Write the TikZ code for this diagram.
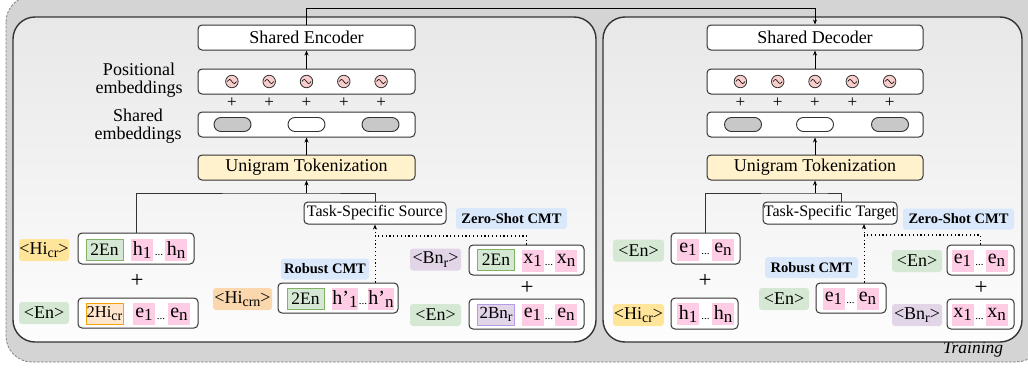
\documentclass[tikz,border=0pt]{standalone}
\usepackage{fontspec}
\setmainfont{Liberation Serif}
\usetikzlibrary{arrows.meta}

\definecolor{outerfill}{HTML}{D4D4D4}
\definecolor{outerline}{HTML}{808080}
\definecolor{panelline}{HTML}{333333}
\definecolor{paneltop}{HTML}{E8E8E8}
\definecolor{panelbot}{HTML}{FDFDFD}
\definecolor{tokyellow}{HTML}{FFF2CC}
\definecolor{pinktok}{HTML}{FFCCE6}
\definecolor{posfill}{HTML}{F8CECC}
\definecolor{pillgray}{HTML}{C8C8C8}
\definecolor{lgreen}{HTML}{D5E8D4}
\definecolor{dgreen}{HTML}{82B366}
\definecolor{lyellow}{HTML}{FFE599}
\definecolor{lorange}{HTML}{FAD7AC}
\definecolor{lpurple}{HTML}{E1D5E7}
\definecolor{dpurple}{HTML}{B59CE6}
\definecolor{lblue}{HTML}{DAE8FC}
\definecolor{lpeach}{HTML}{FFE6CC}
\definecolor{dorange}{HTML}{F0A30A}

\newcommand{\nf}{\fontsize{18}{18}\selectfont}
% subscript used in the tag labels
\newcommand{\sbs}[1]{\raisebox{-0.45ex}{\fontsize{14}{14}\selectfont #1}}
% subscript used inside the token boxes (nearly full size, lowered)
\newcommand{\tsb}[1]{\raisebox{-0.3ex}{\fontsize{17}{17}\selectfont #1}}

\tikzset{
  panel/.style={draw=panelline, line width=1.4pt, rounded corners=22pt,
    top color=paneltop, bottom color=panelbot},
  box/.style={draw=panelline, fill=white, rounded corners=4pt, line width=1pt,
    inner sep=0pt, font=\nf},
  posc/.style={circle, draw=panelline, fill=posfill, line width=0.8pt,
    minimum size=12.5pt, inner sep=0pt},
  pill/.style={draw=panelline, rounded corners=7pt, line width=0.9pt,
    minimum width=37pt, minimum height=14pt, inner sep=0pt},
  tok/.style={fill=pinktok, inner sep=0pt, minimum width=22pt,
    minimum height=22pt, font=\fontsize{20}{20}\selectfont},
  dotsn/.style={inner sep=0pt, font=\fontsize{11}{11}\selectfont},
  inner/.style={inner sep=0pt, minimum width=37pt, minimum height=21pt,
    line width=0.9pt, font=\fontsize{17.5}{17.5}\selectfont},
  tag/.style={rounded corners=3pt, inner sep=0pt, minimum height=22pt, font=\nf},
  cmt/.style={fill=lblue, rounded corners=3pt, inner sep=0pt,
    minimum height=21pt, font=\fontsize{14.5}{14.5}\selectfont\bfseries},
  plussm/.style={inner sep=0pt, font=\fontsize{17}{17}\selectfont},
  plusbg/.style={inner sep=0pt, font=\fontsize{23}{23}\selectfont},
  arr/.style={-{Stealth[length=5pt,width=4pt]}, line width=0.9pt},
  conn/.style={line width=0.9pt, draw=panelline},
  dotl/.style={line width=1.2pt, dash pattern=on 1.2pt off 2.6pt},
  wave/.pic={\draw[line width=0.6pt] (-4.5,0) sin (-2.25,-2) cos (0,0)
    sin (2.25,2) cos (4.5,0);}
}

\begin{document}
\begin{tikzpicture}[x=1pt,y=-1pt]
\useasboundingbox (0,0) rectangle (1028,372);
\clip (0,0) rectangle (1028,372);

% training frame
\draw[outerline, fill=outerfill, line width=0.8pt,
  dash pattern=on 2.5pt off 1.5pt, rounded corners=26pt]
  (6,-4) rectangle (1042,362);
\node[inner sep=0pt, font=\fontsize{17.5}{17.5}\selectfont\itshape] (train)
  at (973,350) {Training};

% encoder and decoder panels
\path[panel] (13,17) rectangle (596,342);
\path[panel] (603,17) rectangle (1022,342);

% ---------- encoder stack ----------
\node[box, minimum width=217pt, minimum height=25pt] (enc) at (306.5,37.5) {Shared Encoder};
\node[box, minimum width=217pt, minimum height=25pt] (posL) at (306.5,81.5) {};
\node[box, minimum width=217pt, minimum height=25pt] (embL) at (306.5,124.5) {};
\node[box, fill=tokyellow, minimum width=217pt, minimum height=25pt] (uniL)
  at (306.5,167.5) {Unigram Tokenization};
\foreach \i in {0,...,4}{
  \node[posc] (pcL\i) at (231.9+37.3*\i,81.5) {};
  \pic at (pcL\i) {wave};
  \node[plussm] (plL\i) at (231.9+37.3*\i,102.5) {+};
}
\node[pill, fill=pillgray] (pa1) at (232.5,124.5) {};
\node[pill, fill=white] (pa2) at (306.5,124.5) {};
\node[pill, fill=pillgray] (pa3) at (380.5,124.5) {};
\node[font=\nf, align=center, inner sep=0pt] (posLab) at (139,80) {Positional\\embeddings};
\node[font=\nf, align=center, inner sep=0pt] (embLab) at (138,126) {Shared\\embeddings};

% ---------- decoder stack ----------
\node[box, minimum width=216pt, minimum height=25pt] (dec) at (815,37.5) {Shared Decoder};
\node[box, minimum width=216pt, minimum height=25pt] (posR) at (815,81.5) {};
\node[box, minimum width=216pt, minimum height=25pt] (embR) at (815,124.5) {};
\node[box, fill=tokyellow, minimum width=216pt, minimum height=25pt] (uniR)
  at (815,167.5) {Unigram Tokenization};
\foreach \i in {0,...,4}{
  \node[posc] (pcR\i) at (740.4+37.3*\i,81.5) {};
  \pic at (pcR\i) {wave};
  \node[plussm] (plR\i) at (740.4+37.3*\i,102.5) {+};
}
\node[pill, fill=pillgray] (pb1) at (743,124.5) {};
\node[pill, fill=white] (pb2) at (815,124.5) {};
\node[pill, fill=pillgray] (pb3) at (890,124.5) {};

% stack arrows
\draw[arr] (posL) -- (enc);
\draw[arr] (uniL) -- (embL);
\draw[arr] (posR) -- (dec);
\draw[arr] (uniR) -- (embR);
\draw[arr] (enc.north) -- ++(0,-16.5) -| (dec.north);

% ---------- encoder inputs ----------
\node[box, minimum width=142pt, minimum height=22pt, font=\fontsize{16}{16}\selectfont]
  (tss) at (375,213) {Task-Specific Source};

\node[tag, fill=lyellow, minimum width=50pt] (t1) at (44,250) {<Hi\sbs{cr}>};
\node[box, minimum width=116pt, minimum height=31pt] (hbL) at (136,248.5) {};
\node[inner, fill=lgreen, draw=dgreen] (i1) at (104.5,249.5) {2En};
\node[tok] (k1) at (142,250) {h\tsb{1}};
\node[dotsn] (d1) at (159,255) {...};
\node[tok] (k2) at (176,250) {h\tsb{n}};
\node[plusbg] (p1) at (137,281) {+};
\node[tag, fill=lgreen, minimum width=50pt] (t2) at (44,313) {<En>};
\node[box, minimum width=120pt, minimum height=30pt] (ebL) at (138,313) {};
\node[inner, fill=lpeach, draw=dorange, font=\fontsize{16.5}{16.5}\selectfont]
  (i2) at (104.5,313.5) {2Hi\sbs{cr}};
\node[tok] (k3) at (144,314) {e\tsb{1}};
\node[dotsn] (d2) at (161,319) {...};
\node[tok] (k4) at (179,314) {e\tsb{n}};

\node[cmt, minimum width=88pt] (rc1) at (325,269) {Robust CMT};
\node[tag, fill=lorange, minimum width=59pt] (t3) at (242.5,299) {<Hi\sbs{crn}>};
\node[box, minimum width=120pt, minimum height=30pt] (hpb) at (338,298) {};
\node[inner, fill=lgreen, draw=dgreen] (i3) at (305.5,298.5) {2En};
\node[tok, minimum width=24pt] (k5) at (345,299) {h’\tsb{1}};
\node[dotsn] (d3) at (363,304) {...};
\node[tok, minimum width=24pt] (k6) at (381,299) {h’\tsb{n}};

\node[cmt, minimum width=111pt] (zc1) at (511.5,218.5) {Zero-Shot CMT};
\node[tag, fill=lpurple, minimum width=51pt] (t4) at (435.5,259.5) {<Bn\sbs{r}>};
\node[box, minimum width=115pt, minimum height=30pt] (xb) at (526.5,260) {};
\node[inner, fill=lgreen, draw=dgreen] (i4) at (496,260) {2En};
\node[tok] (k7) at (532.5,260.5) {x\tsb{1}};
\node[dotsn] (d4) at (549,265) {...};
\node[tok] (k8) at (566,260.5) {x\tsb{n}};
\node[plusbg] (p2) at (527,288) {+};
\node[tag, fill=lgreen, minimum width=51pt] (t5) at (435.5,315) {<En>};
\node[box, minimum width=115pt, minimum height=30pt] (ebL2) at (526.5,314) {};
\node[inner, fill=lpurple, draw=dpurple, font=\fontsize{17}{17}\selectfont]
  (i5) at (496,314.5) {2Bn\sbs{r}};
\node[tok] (k9) at (532.5,314.5) {e\tsb{1}};
\node[dotsn] (d5) at (549,319) {...};
\node[tok] (k10) at (566,314.5) {e\tsb{n}};

\coordinate (jL) at (306.5,193);
\coordinate (zL) at (375,236);
\draw[conn] (hbL.north) |- (jL) -| (tss.north);
\draw[arr] (jL) -- (uniL);
\draw[dotl, arr] (hpb.north -| tss.south) -- (tss.south);
\draw[dotl] (xb.north) |- (zL);

% ---------- decoder inputs ----------
\node[box, minimum width=134pt, minimum height=22pt, font=\fontsize{16}{16}\selectfont]
  (tst) at (830,213) {Task-Specific Target};

\node[tag, fill=lgreen, minimum width=51pt] (t6) at (638.5,250.5) {<En>};
\node[box, minimum width=69pt, minimum height=31pt] (ebR1) at (705.5,248.5) {};
\node[tok] (k11) at (688,249.5) {e\tsb{1}};
\node[dotsn] (d6) at (705.5,254.5) {...};
\node[tok] (k12) at (723,249.5) {e\tsb{n}};
\node[plusbg] (p3) at (705,281) {+};
\node[tag, fill=lyellow, minimum width=51pt] (t7) at (638.5,315) {<Hi\sbs{cr}>};
\node[box, minimum width=67pt, minimum height=31pt] (hbR) at (704.5,313.5) {};
\node[tok] (k13) at (688,314) {h\tsb{1}};
\node[dotsn] (d7) at (705.5,319) {...};
\node[tok] (k14) at (723,314) {h\tsb{n}};

\node[cmt, minimum width=93pt] (rc2) at (811.5,267.5) {Robust CMT};
\node[tag, fill=lgreen, minimum width=50pt] (t8) at (784,299) {<En>};
\node[box, minimum width=70pt, minimum height=30pt] (ebR2) at (851,298) {};
\node[tok] (k15) at (833.5,298.5) {e\tsb{1}};
\node[dotsn] (d8) at (850.5,303.5) {...};
\node[tok] (k16) at (867.5,298.5) {e\tsb{n}};

\node[cmt, minimum width=111pt] (zc2) at (958.5,219) {Zero-Shot CMT};
\node[tag, fill=lgreen, minimum width=50pt] (t9) at (917,261) {<En>};
\node[box, minimum width=67pt, minimum height=30pt] (ebR3) at (980.5,260) {};
\node[tok] (k17) at (962.5,260.5) {e\tsb{1}};
\node[dotsn] (d9) at (979.5,265.5) {...};
\node[tok] (k18) at (996.5,260.5) {e\tsb{n}};
\node[plusbg] (p4) at (981,288) {+};
\node[tag, fill=lpurple, minimum width=50pt] (t10) at (917,315) {<Bn\sbs{r}>};
\node[box, minimum width=67pt, minimum height=30pt] (xbR) at (980.5,314) {};
\node[tok] (k19) at (962.5,314.5) {x\tsb{1}};
\node[dotsn] (d10) at (979.5,319.5) {...};
\node[tok] (k20) at (996.5,314.5) {x\tsb{n}};

\coordinate (jR) at (815,193);
\coordinate (tgtTop) at (841,202);
\coordinate (tgtBot) at (864,224);
\coordinate (zR) at (864,235);
\draw[conn] (ebR1.north) |- (jR) -| (tgtTop);
\draw[arr] (jR) -- (uniR);
\draw[dotl, arr] (ebR2.north -| tgtBot) -- (tgtBot);
\draw[dotl] (ebR3.north) |- (zR);
\end{tikzpicture}
\end{document}
